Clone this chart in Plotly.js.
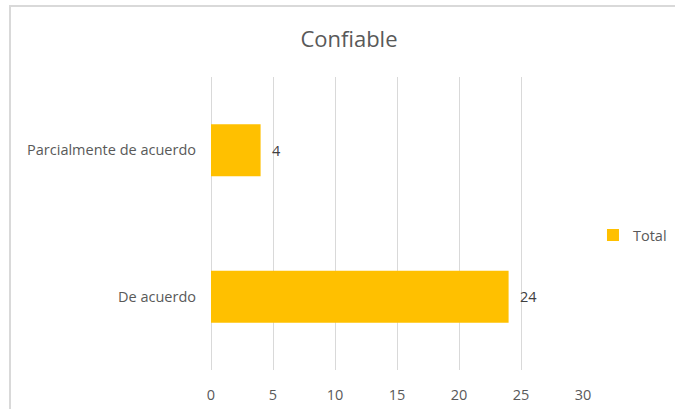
<!DOCTYPE html>
<html>
<head>
<meta charset="utf-8">
<script src="https://cdn.plot.ly/plotly-3.0.1.min.js"></script>
<style>
  html, body { margin: 0; padding: 0; background: #fff; overflow: hidden; }
  #frame { position: absolute; left: 9px; top: 5px; width: 720px; height: 460px; border: 2px solid #D9D9D9; box-sizing: border-box; }
  #chart { position: absolute; left: 0; top: 0; width: 675px; height: 409px; }
</style>
</head>
<body>
<div id="frame"></div>
<div id="chart"></div>
<script>
const categories = ["De acuerdo", "Parcialmente de acuerdo"];
const values = [24, 4];
const seriesName = "Total";
const chartTitle = "Confiable";
const tickValues = [0, 5, 10, 15, 20, 25, 30];

const font = "Open Sans, Noto Sans, sans-serif";
const textColor = "#595959";

const labelAnnotations = categories.map((c, i) => ({
  x: values[i], y: c, xref: "x", yref: "y",
  text: String(values[i]),
  showarrow: false, xanchor: "left", yanchor: "middle",
  xshift: 9,
  font: { family: font, size: 14.5, color: "#404040" }
}));

Plotly.newPlot("chart", [{
  type: "bar",
  orientation: "h",
  y: categories,
  x: values,
  name: seriesName,
  marker: { color: "#FFC000" },
  width: 0.355,
  textposition: "none",
  showlegend: true
}], {
  width: 675,
  height: 409,
  paper_bgcolor: "rgba(0,0,0,0)",
  plot_bgcolor: "rgba(0,0,0,0)",
  margin: { l: 211, r: 92, t: 77, b: 39 },
  title: {
    text: chartTitle,
    font: { family: font, size: 22, color: textColor },
    x: 0.517, xanchor: "center",
    y: 0.905, yanchor: "middle"
  },
  xaxis: {
    range: [0, 30],
    tickvals: tickValues,
    showgrid: true,
    gridcolor: "#D9D9D9",
    gridwidth: 1,
    zeroline: true,
    zerolinecolor: "#D9D9D9",
    zerolinewidth: 1,
    showline: false,
    ticks: "",
    tickfont: { family: font, size: 14.5, color: textColor },
    ticklabelstandoff: 14,
    fixedrange: true
  },
  yaxis: {
    range: [-0.5, 1.5],
    showgrid: false,
    zeroline: false,
    showline: false,
    ticks: "",
    ticklabelstandoff: 14,
    tickfont: { family: font, size: 14.5, color: textColor },
    fixedrange: true
  },
  annotations: labelAnnotations,
  showlegend: true,
  legend: {
    xref: "container", yref: "container",
    x: 0.8785, xanchor: "left",
    y: 0.425, yanchor: "middle",
    font: { family: font, size: 14.5, color: textColor },
    itemwidth: 30,
    bgcolor: "rgba(0,0,0,0)"
  }
}, { displayModeBar: false, staticPlot: true });
</script>
</body>
</html>
